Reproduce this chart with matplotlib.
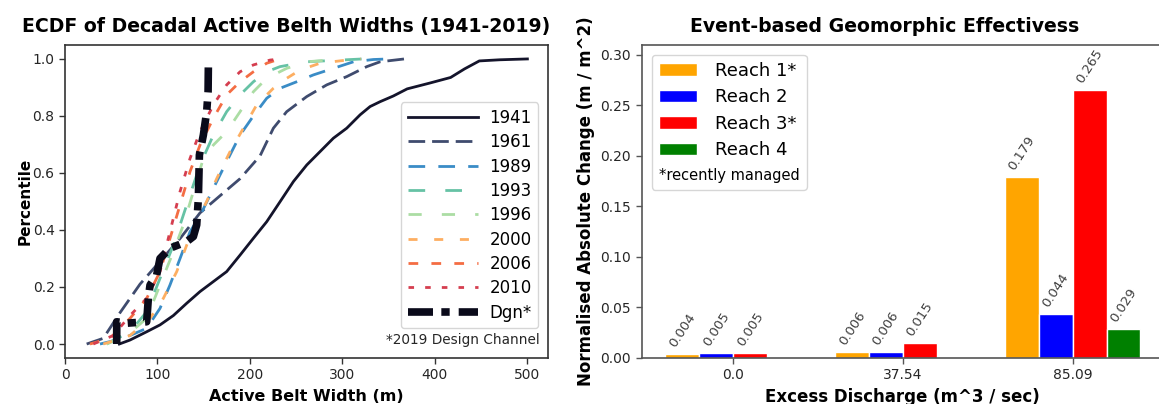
import numpy as np
import matplotlib
matplotlib.use("Agg")
import matplotlib.pyplot as plt

plt.rcParams["font.family"] = ["DejaVu Sans"]
plt.rcParams["lines.scale_dashes"] = False

# ---------------- ECDF of active belt widths ----------------
years = ["1941", "1961", "1989", "1993", "1996", "2000", "2006", "2010", "Dgn*"]

w_1941 = [58.7, 70.3, 88.3, 102.7, 117.2, 131.6, 146, 160.4, 174.8, 189.3, 203.7, 218.1, 232.5,
          247, 261.4, 275.8, 290.2, 304.6, 319.1, 329.9, 340.7, 355, 370, 394, 417, 432, 448, 470, 500]
p_1941 = [0.0, 0.014, 0.043, 0.067, 0.10, 0.143, 0.184, 0.219, 0.254, 0.312, 0.371, 0.429, 0.499,
          0.570, 0.628, 0.675, 0.722, 0.757, 0.804, 0.833, 0.850, 0.870, 0.895, 0.915, 0.935, 0.965,
          0.993, 0.997, 1.0]

w_1961 = [23.4, 41.4, 59.5, 81.1, 102.7, 124.4, 146, 167.6, 189.3, 210.9, 225.3, 239.7, 261.4,
          283, 304.6, 326.3, 340.7, 367]
p_1961 = [0.0, 0.02, 0.11, 0.21, 0.29, 0.37, 0.46, 0.52, 0.58, 0.66, 0.757, 0.815, 0.868,
          0.909, 0.938, 0.973, 0.99, 1.0]

w_1989 = [37.8, 63.1, 88.3, 102.7, 113.5, 124.4, 135.2, 146, 160.4, 174.8, 189.3, 203.7, 218.1,
          232.5, 250.6, 268.6, 290.2, 311.9, 333.5, 350]
p_1989 = [0.0, 0.02, 0.055, 0.125, 0.207, 0.30, 0.394, 0.45, 0.546, 0.64, 0.733, 0.80, 0.862,
          0.897, 0.92, 0.944, 0.967, 0.99, 0.998, 1.0]

w_1993 = [45, 70.3, 88.3, 102.7, 117.2, 131.6, 146, 160.4, 174.8, 189.3, 203.7, 218.1, 232.5,
          261.4, 297.4, 322]
p_1993 = [0.0, 0.043, 0.113, 0.23, 0.347, 0.488, 0.628, 0.733, 0.815, 0.874, 0.92, 0.955, 0.973,
          0.99, 0.996, 1.0]

w_1996 = [45, 66.7, 88.3, 102.7, 117.2, 128, 138.8, 149.6, 160.4, 174.8, 189.3, 203.7, 218.1,
          239.7, 261.4, 300]
p_1996 = [0.0, 0.03, 0.09, 0.207, 0.324, 0.418, 0.535, 0.651, 0.698, 0.745, 0.815, 0.885, 0.932,
          0.967, 0.99, 1.0]

w_2000 = [41.4, 70.3, 91.9, 106.3, 120.8, 131.6, 142.4, 153.2, 164, 178.5, 192.9, 207.3, 225.3,
          239.7, 254.2, 275.8, 304.6, 320]
p_2000 = [0.0, 0.03, 0.09, 0.16, 0.254, 0.347, 0.429, 0.50, 0.58, 0.675, 0.757, 0.839, 0.897,
          0.932, 0.961, 0.985, 0.996, 1.0]

w_2006 = [27, 48.6, 70.3, 88.3, 102.7, 113.5, 124.4, 135.2, 146, 160.4, 174.8, 189.3, 203.7,
          218.1, 232.5]
p_2006 = [0.0, 0.02, 0.09, 0.16, 0.254, 0.37, 0.488, 0.605, 0.698, 0.792, 0.874, 0.92, 0.955,
          0.985, 1.0]

w_2010 = [30.6, 52.3, 70.3, 88.3, 102.7, 113.5, 124.4, 135.2, 146, 160.4, 174.8, 189.3, 203.7,
          221.7, 232.5]
p_2010 = [0.0, 0.03, 0.10, 0.16, 0.254, 0.394, 0.535, 0.651, 0.745, 0.839, 0.909, 0.955, 0.979,
          0.996, 1.0]

w_dgn = [55.9, 55.9, 66.7, 88.3, 90.1, 91.9, 99.1, 102.7, 113.5, 131.6, 138.8, 142.4, 144.2,
         145.3, 149.6, 153.2, 154.7, 155]
p_dgn = [0.0, 0.078, 0.073, 0.078, 0.16, 0.207, 0.242, 0.30, 0.336, 0.359, 0.377, 0.418, 0.511,
         0.663, 0.733, 0.815, 0.885, 0.973]

widths = [w_1941, w_1961, w_1989, w_1993, w_1996, w_2000, w_2006, w_2010, w_dgn]
percentiles = [p_1941, p_1961, p_1989, p_1993, p_1996, p_2000, p_2006, p_2010, p_dgn]

line_colors = ["#14142b", "#3f4b6e", "#3a8cc6", "#66c2a5", "#abdda4",
               "#fdae61", "#f46d43", "#d53e4f", "#0a0a1a"]
line_widths = [2.0, 2.0, 2.0, 2.0, 2.0, 2.0, 2.0, 2.0, 5.5]
# dash patterns in points (None = solid)
line_dashes = [None, (12, 5), (12, 9.5), (12, 14.5), (9.5, 14.5), (6.5, 12),
               (7, 9.5), (4, 8), (18, 6, 6, 6.5)]

# ---------------- Event-based geomorphic effectiveness ----------------
discharge = ["0.0", "37.54", "85.09"]
reaches = ["Reach 1*", "Reach 2", "Reach 3*", "Reach 4"]
reach1 = [0.004, 0.006, 0.179]
reach2 = [0.005, 0.006, 0.044]
reach3 = [0.005, 0.015, 0.265]
reach4 = [np.nan, np.nan, 0.029]
reach_values = [reach1, reach2, reach3, reach4]
reach_colors = ["orange", "blue", "red", "green"]

fig = plt.figure(figsize=(11.59, 4.04), dpi=100)
ax1 = fig.add_axes([0.0561, 0.1139, 0.4165, 0.7748])
ax2 = fig.add_axes([0.5535, 0.1139, 0.451, 0.7755])

tick_color = "#262626"
for ax, sc in ((ax1, "#333333"), (ax2, "#555555")):
    for s in ax.spines.values():
        s.set_color(sc)
        s.set_linewidth(1.2)
    ax.tick_params(direction="out", length=4, width=1, colors=sc,
                   labelcolor=tick_color, labelsize=10)

# left panel
for lab, w, p, c, lw, d in zip(years, widths, percentiles, line_colors, line_widths, line_dashes):
    ln, = ax1.plot(w, p, color=c, lw=lw, label=lab)
    if d is not None:
        ln.set_dashes(d)
ax1.set_xlim(0, 522)
ax1.set_ylim(-0.049, 1.049)
ax1.set_xticks([0, 100, 200, 300, 400, 500])
ax1.set_yticks([0.0, 0.2, 0.4, 0.6, 0.8, 1.0])
ax1.set_xlabel("Active Belt Width (m)", fontsize=11.5, fontweight="bold", labelpad=5)
ax1.set_ylabel("Percentile", fontsize=11, fontweight="bold", labelpad=0)
ax1.set_title("ECDF of Decadal Active Belth Widths (1941-2019)", fontsize=13.6,
              fontweight="bold", x=0.458, pad=9)
leg1 = ax1.legend(loc="lower right", bbox_to_anchor=(0.9805, 0.0949), borderaxespad=0,
                  fontsize=12, handlelength=4.2, handletextpad=0.7, labelspacing=0.38,
                  edgecolor="#cccccc")
ax1.text(0.984, 0.0575, "*2019 Design Channel", transform=ax1.transAxes,
         ha="right", va="center", fontsize=9.8, color=tick_color)

# right panel
x = np.arange(len(discharge))
bw = 0.2
offsets = [-1.5, -0.5, 0.5, 1.5]
for name, vals, c, off in zip(reaches, reach_values, reach_colors, offsets):
    bars = ax2.bar(x + off * bw, vals, width=bw, color=c, edgecolor="white",
                   linewidth=1, label=name)
    for b, v in zip(bars, vals):
        if np.isnan(v):
            continue
        ax2.annotate(f"{v:.3f}", (b.get_x() + b.get_width() / 2, v),
                     xytext=(0, 3), textcoords="offset points",
                     ha="center", va="bottom", rotation=57, fontsize=9.5, color="#404040")
ax2.set_xlim(-0.54, 2.54)
ax2.set_ylim(0, 0.31)
ax2.set_xticks(x)
ax2.set_xticklabels(discharge)
ax2.set_yticks([0.0, 0.05, 0.10, 0.15, 0.20, 0.25, 0.30])
ax2.set_xlabel("Excess Discharge (m^3 / sec)", fontsize=12, fontweight="bold", labelpad=4)
ax2.set_ylabel("Normalised Absolute Change (m / m^2)", fontsize=12, fontweight="bold",
               labelpad=3.5)
ax2.set_title("Event-based Geomorphic Effectivess", fontsize=13.6, fontweight="bold",
              x=0.465, pad=9)
leg2 = ax2.legend(loc="upper left", bbox_to_anchor=(0.0195, 0.968), borderaxespad=0,
                  fontsize=13, handlelength=2.1, handletextpad=1.0, labelspacing=0.47,
                  edgecolor="#cccccc", title="*recently managed", title_fontsize=10.5,
                  alignment="left")
# put the note underneath the entries
leg2._legend_box._children.reverse()

fig.savefig("out.png", dpi=100)
